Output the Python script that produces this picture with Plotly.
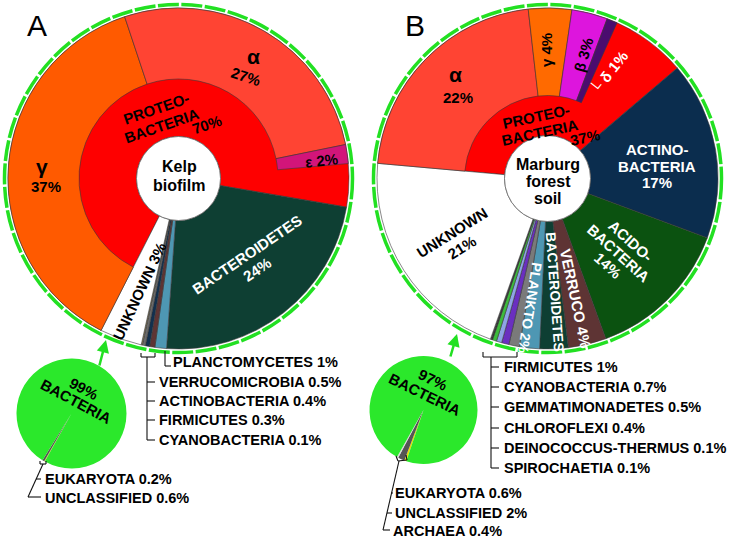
import math
import plotly.graph_objects as go

W, H = 729, 539
FONT = "Liberation Sans, Arial, sans-serif"

# ---------------- Panel A: kelp biofilm ----------------
a_phyla = ["Proteobacteria", "Bacteroidetes", "Planctomycetes", "Verrucomicrobia",
           "Actinobacteria", "Firmicutes", "Cyanobacteria", "Unknown"]
a_phyla_pct = [70.4, 23.5, 1.1, 0.5, 0.4, 0.3, 0.1, 4.0]
a_phyla_colors = ["#fe0000", "#0e3f33", "#4e97b3", "#5e3434", "#12304f",
                  "#6b6b6b", "#b8a060", "#ffffff"]
a_classes = ["γ", "α", "ε"]
a_classes_pct = [37.5, 27.0, 1.8]
a_classes_colors = ["#ff5a00", "#ff4433", "#d2157a"]
a_domains = ["Eukaryota", "Unclassified", "Bacteria"]
a_domains_pct = [0.2, 0.6, 99]
a_domains_colors = ["#e8e000", "#555555", "#2be82b"]

# ---------------- Panel B: Marburg forest soil ----------------
b_phyla = ["Proteobacteria", "Actinobacteria", "Acidobacteria", "Verrucomicrobia",
           "Bacteroidetes", "Planctomycetes", "Firmicutes", "Cyanobacteria",
           "Gemmatimonadetes", "Chloroflexi", "Deinococcus-Thermus", "Spirochaetia", "Unknown"]
b_phyla_pct = [37.4, 16.9, 13.8, 3.6, 2.7, 1.9, 1, 0.7, 0.5, 0.4, 0.1, 0.1, 21]
b_phyla_colors = ["#fe0000", "#0b2d4e", "#0b5210", "#5e3434", "#0e3f33", "#4e97b3",
                  "#7a7a7a", "#6a2fc0", "#8ea4e6", "#3dbb3d", "#222222", "#444444", "#ffffff"]
b_classes = ["α", "γ", "β", "δ"]
b_classes_pct = [21.8, 4.1, 3.4, 1.0]
b_classes_colors = ["#ff4433", "#ff6a00", "#dd15dd", "#4a0c6e"]
b_domains = ["Eukaryota", "Unclassified", "Archaea", "Bacteria"]
b_domains_pct = [0.6, 2, 0.4, 97]
b_domains_colors = ["#e8e000", "#555555", "#d8d8d8", "#2be82b"]

GA = dict(cx=178.5, cy=178.5, hole=42, mid=99.5, outer=170.5, rot=243)
GB = dict(cx=547.5, cy=178.5, hole=43, mid=83, outer=170.5, rot=174.9)
RD = 178.0

fig = go.Figure()


def wedges(pct, scale):
    th, wd, s = [], [], 0
    for p in pct:
        w = p * scale
        th.append(s + w / 2)
        wd.append(w)
        s += w
    return th, wd


def krona(pct, colors, cpct, ccolors, g, sub):
    scale = 360.0 / sum(pct)
    th, wd = wedges(pct, scale)
    n = len(pct)
    fig.add_trace(go.Barpolar(
        theta=th, width=wd, base=[g["hole"]] * n, r=[g["outer"] - g["hole"]] * n,
        marker=dict(color=colors, line=dict(color="#3a3a3a", width=0.6)),
        subplot=sub, hoverinfo="skip", showlegend=False))
    th, wd = wedges(cpct, scale)
    m = len(cpct)
    fig.add_trace(go.Barpolar(
        theta=th, width=wd, base=[g["mid"]] * m, r=[g["outer"] - g["mid"]] * m,
        marker=dict(color=ccolors, line=dict(color="#3a3a3a", width=0.6)),
        subplot=sub, hoverinfo="skip", showlegend=False))


krona(a_phyla_pct, a_phyla_colors, a_classes_pct, a_classes_colors, GA, "polar")
krona(b_phyla_pct, b_phyla_colors, b_classes_pct, b_classes_colors, GB, "polar2")


def polar_layout(g):
    return dict(
        domain=dict(x=[(g["cx"] - RD) / W, (g["cx"] + RD) / W],
                    y=[1 - (g["cy"] + RD) / H, 1 - (g["cy"] - RD) / H]),
        bgcolor="rgba(0,0,0,0)", bargap=0,
        radialaxis=dict(visible=False, range=[0, RD]),
        angularaxis=dict(visible=False, direction="clockwise", rotation=g["rot"]),
    )


def pie(vals, labels, colors, cx, cy, r, rot):
    fig.add_trace(go.Pie(
        values=vals, labels=labels, sort=False, direction="clockwise", rotation=rot,
        marker=dict(colors=colors, line=dict(width=0)), textinfo="none",
        hoverinfo="skip", showlegend=False,
        domain=dict(x=[(cx - r) / W, (cx + r) / W], y=[1 - (cy + r) / H, 1 - (cy - r) / H])))


pie(a_domains_pct, a_domains, a_domains_colors, 71.5, 413.5, 55, 209)
pie(b_domains_pct, b_domains, b_domains_colors, 423.5, 410, 54, 198.6)

shapes = []
anns = []


def circle(cx, cy, r, **kw):
    shapes.append(dict(type="circle", xref="paper", yref="paper",
                       x0=(cx - r) / W, x1=(cx + r) / W,
                       y0=1 - (cy + r) / H, y1=1 - (cy - r) / H, **kw))


def seg(pts, color="#111111", width=1.1):
    for (x0, y0), (x1, y1) in zip(pts[:-1], pts[1:]):
        shapes.append(dict(type="line", xref="paper", yref="paper",
                           x0=x0 / W, y0=1 - y0 / H, x1=x1 / W, y1=1 - y1 / H,
                           line=dict(color=color, width=width)))


def lab(x, y, text, size=15, color="black", angle=0, bold=True, xanchor="center"):
    anns.append(dict(x=x / W, y=1 - y / H, xref="paper", yref="paper",
                     text=f"<b>{text}</b>" if bold else text, showarrow=False,
                     textangle=angle, xanchor=xanchor, yanchor="middle",
                     font=dict(family=FONT, size=size, color=color)))


def mlab(x, y, lines, spacing, size=15, color="black", angle=0):
    """multi-line label with custom line spacing, rotated as a block"""
    t = math.radians(angle)
    dx, dy = -math.sin(t), math.cos(t)
    n = len(lines)
    for i, txt in enumerate(lines):
        k = (i - (n - 1) / 2) * spacing
        lab(x + k * dx, y + k * dy, txt, size=size, color=color, angle=angle)


for g in (GA, GB):
    circle(g["cx"], g["cy"], 174, line=dict(color="#22e022", width=3.5, dash="21px,2.5px"))
    circle(g["cx"], g["cy"], g["hole"], fillcolor="white", line=dict(color="#666666", width=0.8))

# ---- Panel A labels ----
lab(37, 25, "A", size=30, bold=False)
lab(253, 56, "α", size=21)
lab(246, 76, "27%", angle=18)
lab(42, 166, "γ", size=21)
lab(46, 186, "37%")
mlab(159, 117, ["PROTEO-", "BACTERIA"], 19, angle=-19)
lab(207, 125, "70%", angle=-19)
lab(321, 160, "ε 2%", angle=-6)
mlab(179, 176, ["Kelp", "biofilm"], 18.5, size=16)
mlab(252, 262, ["BACTEROIDETES", "24%"], 17.5, color="white", angle=-34)
lab(139, 291, "UNKNOWN 3%", angle=-65)
mlab(80, 395, ["99%", "BACTERIA"], 15.5, angle=28)

a_call = ["PLANCTOMYCETES 1%", "VERRUCOMICROBIA 0.5%", "ACTINOBACTERIA 0.4%",
          "FIRMICUTES 0.3%", "CYANOBACTERIA 0.1%"]
a_call_y = [362, 382, 401, 420, 440]
lab(171, a_call_y[0], a_call[0], size=14.5, xanchor="left")
for t, y in zip(a_call[1:], a_call_y[1:]):
    lab(157, y, t, size=14.5, xanchor="left")
seg([(165, 351), (165, 366), (171, 366)])
seg([(141, 353), (141, 357), (155, 357), (155, 353)])
seg([(147, 357), (147, 440), (155, 440)])
for y in a_call_y[1:-1]:
    seg([(147, y), (155, y)])

lab(43, 479, "EUKARYOTA 0.2%", size=14.5, xanchor="left")
lab(43, 498, "UNCLASSIFIED 0.6%", size=14.5, xanchor="left")
seg([(40, 461), (40, 464), (46, 464), (46, 461)])
seg([(43, 464), (28, 497), (41, 497)])
seg([(36, 479), (41, 479)])

# ---- Panel B labels ----
lab(415, 25, "B", size=30, bold=False)
lab(455, 75, "α", size=21)
lab(458, 97, "22%")
lab(547, 50, "γ 4%", angle=-90)
lab(583, 55, "β 3%", angle=-74)
lab(609, 72, "└ δ 1%", angle=-52, color="white")
mlab(538, 124.5, ["PROTEO-", "BACTERIA"], 16.5, angle=-12)
lab(585, 137, "37%", angle=-12)
mlab(548, 181.5, ["Marburg", "forest", "soil"], 17, size=16)
mlab(657, 166, ["ACTINO-", "BACTERIA", "17%"], 16.5, color="white")
mlab(619, 253, ["ACIDO-", "BACTERIA", "14%"], 16.5, color="white", angle=42)
lab(576, 298, "VERRUCO 4%", color="white", angle=78)
lab(555, 292, "BACTEROIDETES", size=14, color="white", angle=86)
lab(530, 308, "PLANKTO 2%", size=14, color="white", angle=99)
mlab(457, 240, ["UNKNOWN", "21%"], 18, angle=-32)
mlab(429, 387, ["97%", "BACTERIA"], 16.5, angle=26)

b_call = ["FIRMICUTES 1%", "CYANOBACTERIA 0.7%", "GEMMATIMONADETES 0.5%",
          "CHLOROFLEXI 0.4%", "DEINOCOCCUS-THERMUS 0.1%", "SPIROCHAETIA 0.1%"]
b_call_y = [367, 387, 407, 428, 448, 468]
for t, y in zip(b_call, b_call_y):
    lab(502, y, t, size=14.5, xanchor="left")
seg([(483, 352), (483, 357), (517, 357), (517, 352)])
seg([(491, 357), (491, 468), (499, 468)])
for y in b_call_y[:-1]:
    seg([(491, y), (499, y)])

lab(393, 493, "EUKARYOTA 0.6%", size=14.5, xanchor="left")
lab(393, 513, "UNCLASSIFIED 2%", size=14.5, xanchor="left")
lab(391, 531, "ARCHAEA 0.4%", size=14.5, xanchor="left")
seg([(396, 456), (398, 461), (407, 460), (406, 455)])
seg([(399, 461), (383, 530), (390, 530)])
seg([(387, 513), (392, 513)])
seg([(391, 493), (393, 493)])

# arrows from pies to rings
for hx, hy, tx, ty in [(106, 340, 99, 367), (457, 334, 450, 358)]:
    anns.append(dict(x=hx / W, y=1 - hy / H, xref="paper", yref="paper", text="",
                     showarrow=True, ax=tx - hx, ay=ty - hy, arrowhead=2, arrowsize=1,
                     arrowwidth=2.5, arrowcolor="#22e022"))

fig.update_layout(
    width=W, height=H, margin=dict(l=0, r=0, t=0, b=0),
    paper_bgcolor="white", plot_bgcolor="white",
    polar=polar_layout(GA), polar2=polar_layout(GB),
    shapes=shapes, annotations=anns, showlegend=False,
    font=dict(family=FONT),
)

fig.write_html("out.html", config={"displayModeBar": False},
               post_script="document.body.style.margin='0px';document.body.style.padding='0px';")
